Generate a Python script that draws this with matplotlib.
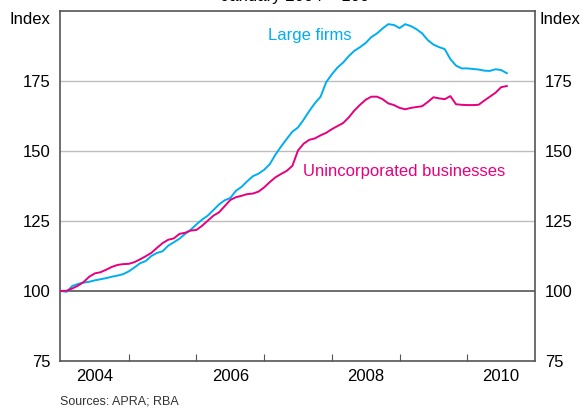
import matplotlib
matplotlib.use("Agg")
import matplotlib.pyplot as plt
import numpy as np

plt.rcParams['font.family'] = ['Liberation Sans', 'DejaVu Sans']

# Monthly index, January 2004 = 100 (Jan 2004 .. Aug 2010)
large_firms = [
    100.0, 99.7, 101.8, 102.5, 103.0, 103.3, 103.8, 104.2, 104.6, 105.1, 105.5, 106.0,
    107.0, 108.4, 109.9, 110.7, 112.5, 113.6, 114.2, 116.2, 117.4, 118.7, 120.4, 121.9,
    123.8, 125.5, 126.9, 128.9, 130.9, 132.4, 133.2, 135.8, 137.2, 139.2, 141.0, 141.9,
    143.3, 145.3, 148.7, 151.6, 154.3, 156.9, 158.4, 161.2, 164.3, 167.1, 169.4, 174.6,
    177.4, 179.8, 181.6, 183.9, 185.8, 187.1, 188.6, 190.7, 192.0, 193.8, 195.3, 195.0,
    193.9, 195.3, 194.6, 193.5, 192.0, 189.6, 188.0, 187.1, 186.4, 182.8, 180.5, 179.5,
    179.5, 179.3, 179.1, 178.7, 178.6, 179.2, 178.9, 177.8,
]
unincorporated = [
    100.0, 100.1, 100.9, 101.9, 103.2, 105.1, 106.3, 106.7, 107.6, 108.6, 109.3, 109.6,
    109.7, 110.3, 111.3, 112.4, 113.6, 115.4, 117.1, 118.3, 118.8, 120.4, 120.8, 121.6,
    121.8, 123.3, 125.1, 126.9, 128.1, 130.3, 132.5, 133.5, 134.0, 134.6, 134.8, 135.5,
    137.0, 138.9, 140.6, 141.8, 142.9, 144.7, 150.2, 152.6, 154.0, 154.5, 155.6, 156.5,
    157.8, 158.9, 160.0, 162.0, 164.5, 166.5, 168.3, 169.4, 169.4, 168.5, 167.0, 166.4,
    165.4, 164.9, 165.4, 165.7, 166.0, 167.5, 169.2, 168.8, 168.5, 169.6, 166.7, 166.5,
    166.4, 166.4, 166.5, 168.0, 169.4, 170.8, 172.8, 173.2,
]
dates = 2004 + np.arange(len(large_firms)) / 12.0

year_labels = [2004, 2006, 2008, 2010]
y_ticks = [75, 100, 125, 150, 175]

blue = '#00AEEF'
pink = '#E6007E'

fig = plt.figure(figsize=(5.86, 4.09), dpi=100)
ax = fig.add_axes([60 / 586, 48 / 409, 475 / 586, 350 / 409])

# gridlines
for y in [125, 150, 175]:
    ax.axhline(y, color='#BDBDBD', linewidth=1.0, zorder=1)
ax.axhline(100, color='#555555', linewidth=1.2, zorder=1)

ax.plot(dates, large_firms, color=blue, linewidth=1.4, zorder=3)
ax.plot(dates, unincorporated, color=pink, linewidth=1.4, zorder=3)

ax.set_xlim(2003.985, 2011.0)
ax.set_ylim(75, 200)

# year boundary ticks, labels centred in the year
ax.set_xticks(np.arange(2005, 2011))
ax.set_xticklabels([])
ax.set_xticks([y + 0.5 for y in year_labels], minor=True)
ax.set_xticklabels([str(y) for y in year_labels], minor=True, fontsize=12)
ax.tick_params(axis='x', which='major', direction='in', length=5, color='#555555')
ax.tick_params(axis='x', which='minor', length=0, pad=6)

ax.set_yticks(y_ticks)
ax.set_yticklabels([str(v) for v in y_ticks], fontsize=12)
ax.tick_params(axis='y', length=0, pad=7, labelright=True, right=False)

for s in ax.spines.values():
    s.set_color('#555555')
    s.set_linewidth(1.2)

ax.text(2007.68, 191.4, 'Large firms', color=blue, fontsize=12, ha='center', va='center')
ax.text(2009.07, 142.5, 'Unincorporated businesses', color=pink, fontsize=12,
        ha='center', va='center')

fig.text(30 / 586, 1 - 20 / 409, 'Index', fontsize=12, ha='center', va='center')
fig.text(560 / 586, 1 - 20 / 409, 'Index', fontsize=12, ha='center', va='center')
fig.text(295 / 586, 1 - 1.5 / 409, 'January 2004 = 100', fontsize=12,
         ha='center', va='baseline')
fig.text(60 / 586, 1 - 401 / 409, 'Sources: APRA; RBA', fontsize=9,
         ha='left', va='center', color='#333333')

fig.savefig('out.png', dpi=100)
